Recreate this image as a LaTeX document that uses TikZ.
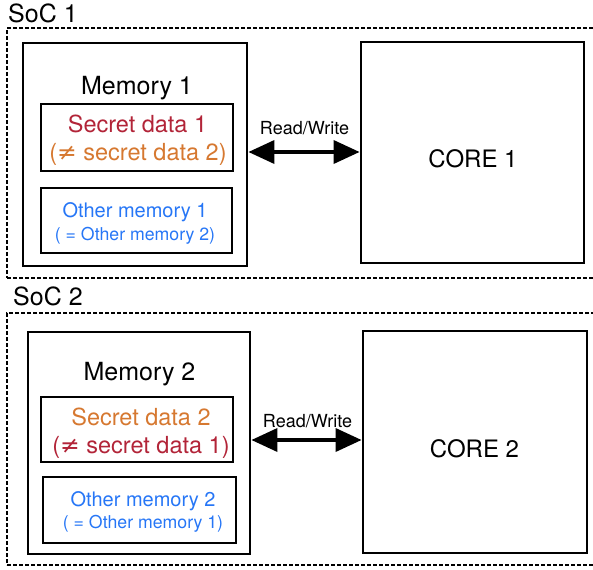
\documentclass[tikz,border=0pt]{standalone}
\usepackage{fontspec}
\setmainfont{TeX Gyre Heros}
\newfontfamily\symfont{DejaVu Sans}
\usetikzlibrary{arrows.meta}
\definecolor{secretred}{RGB}{178,36,56}
\definecolor{secretorange}{RGB}{214,120,48}
\definecolor{otherblue}{RGB}{38,118,246}
\newcommand{\fsz}[1]{\fontsize{#1}{#1}\selectfont}
\newcommand{\neqsign}{{\symfont ≠}}

\begin{document}
\begin{tikzpicture}[x=1pt,y=-1pt,
    soc/.style={draw,line width=1.1pt,dash pattern=on 4pt off 2pt,inner sep=0pt},
    block/.style={draw,line width=2.8pt,inner sep=0pt},
    part/.style={draw,line width=2pt,inner sep=0pt},
    txt/.style={anchor=base,inner sep=0pt},
    rw/.style={{Triangle[length=26pt,width=23pt]}-{Triangle[length=26pt,width=23pt]},line width=3.6pt}]
    \useasboundingbox (0,0) rectangle (593,569);

    \node[soc,minimum width=591,minimum height=250] (soc1) at (302.5,153) {};
    \node[txt,anchor=base west] (soc1lbl) at (8,23) {\fsz{25}SoC 1};
    \node[block,minimum width=224,minimum height=223] (mem1) at (135,154.5) {};
    \node[txt] (mem1lbl) at (137,95) {\fsz{25}Memory 1};
    \node[part,minimum width=192,minimum height=67] (sec1) at (137,137.5) {};
    \node[txt,text=secretred] (sec1a) at (137.5,133) {\fsz{23.5}Secret data 1};
    \node[txt,text=secretorange] (sec1b) at (138,161) {\fsz{23.5}(\neqsign\ secret data 2)};
    \node[part,minimum width=191,minimum height=65] (oth1) at (136.5,220.5) {};
    \node[txt,text=otherblue] (oth1a) at (135,217) {\fsz{20}Other memory 1};
    \node[txt,text=otherblue] (oth1b) at (135,240) {\fsz{17.7}( = Other memory 2)};
    \node[block,minimum width=223,minimum height=221] (core1) at (472.5,152.5) {};
    \node[txt] (core1lbl) at (473,168) {\fsz{24}CORE 1};
    \draw[rw] (mem1.east |- 0,152) -- (core1.west |- 0,152);
    \node[txt] (rw1) at (304.5,135) {\fsz{18}Read/Write};

    \node[soc,minimum width=591,minimum height=252] (soc2) at (302.5,439) {};
    \node[txt,anchor=base west] (soc2lbl) at (13,305) {\fsz{25}SoC 2};
    \node[block,minimum width=222,minimum height=222] (mem2) at (139,443) {};
    \node[txt] (mem2lbl) at (139.5,380) {\fsz{25}Memory 2};
    \node[part,minimum width=192,minimum height=65] (sec2) at (137,429.5) {};
    \node[txt,text=secretorange] (sec2a) at (141,425) {\fsz{23.5}Secret data 2};
    \node[txt,text=secretred] (sec2b) at (141,453) {\fsz{23.5}(\neqsign\ secret data 1)};
    \node[part,minimum width=193,minimum height=66] (oth2) at (139.5,510) {};
    \node[txt,text=otherblue] (oth2a) at (143,506) {\fsz{20}Other memory 2};
    \node[txt,text=otherblue] (oth2b) at (143,528) {\fsz{17.7}( = Other memory 1)};
    \node[block,minimum width=224,minimum height=222] (core2) at (475,442) {};
    \node[txt] (core2lbl) at (474.5,457) {\fsz{24}CORE 2};
    \draw[rw] (mem2.east |- 0,440) -- (core2.west |- 0,440);
    \node[txt] (rw2) at (307.5,427) {\fsz{18}Read/Write};
\end{tikzpicture}
\end{document}
